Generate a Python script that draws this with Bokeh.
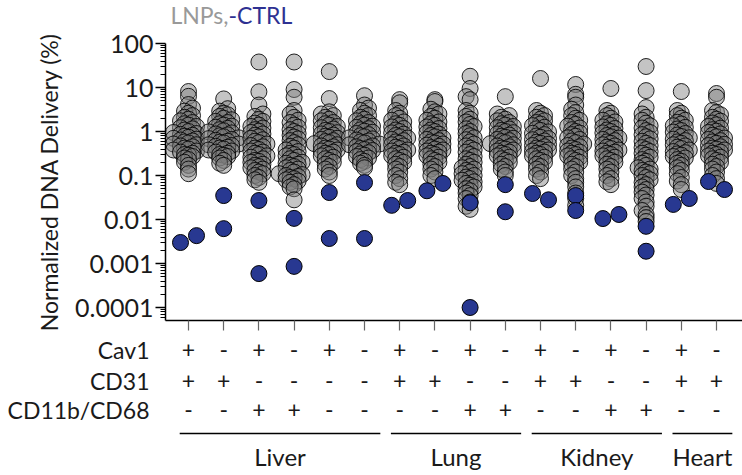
import numpy as np
from bokeh.plotting import figure
from bokeh.layouts import column
from bokeh.models import ColumnDataSource, Range1d, FixedTicker, CustomJSTickFormatter
from bokeh.core.properties import value
from bokeh.embed import file_html
from bokeh.resources import INLINE

# ---------------- data ----------------
groups = list(range(16))

lnp_values = [
    [8.1, 6.3, 4.1, 3.4, 2.9, 2.6, 2.3, 2.1, 1.9, 1.75, 1.6, 1.5, 1.4, 1.3, 1.22, 1.15, 1.08, 1.0, 0.95, 0.9,
     0.86, 0.82, 0.78, 0.74, 0.7, 0.67, 0.64, 0.61, 0.58, 0.55, 0.52, 0.5, 0.47, 0.45, 0.42, 0.4, 0.38, 0.36,
     0.34, 0.32, 0.3, 0.29, 0.27, 0.25, 0.23, 0.2, 0.17, 0.14, 0.11],
    [5.5, 3.3, 2.9, 2.6, 2.4, 2.2, 2.0, 1.85, 1.7, 1.6, 1.5, 1.4, 1.32, 1.25, 1.18, 1.1, 1.04, 0.98, 0.93, 0.88,
     0.84, 0.8, 0.76, 0.72, 0.69, 0.66, 0.63, 0.6, 0.57, 0.55, 0.52, 0.5, 0.48, 0.46, 0.44, 0.42, 0.4, 0.38,
     0.36, 0.34, 0.32, 0.3, 0.29, 0.27, 0.25, 0.22, 0.19, 0.17],
    [38, 8.0, 4.0, 2.5, 2.2, 1.9, 1.7, 1.55, 1.4, 1.3, 1.2, 1.1, 1.02, 0.95, 0.88, 0.82, 0.76, 0.7, 0.65, 0.6,
     0.56, 0.52, 0.48, 0.45, 0.42, 0.39, 0.36, 0.34, 0.32, 0.3, 0.28, 0.26, 0.24, 0.22, 0.21, 0.2, 0.18, 0.17,
     0.16, 0.15, 0.14, 0.13, 0.12, 0.11, 0.1, 0.09, 0.08, 0.07],
    [38, 9.0, 6.0, 3.0, 2.5, 2.1, 1.8, 1.6, 1.4, 1.25, 1.1, 1.0, 0.9, 0.82, 0.75, 0.68, 0.62, 0.56, 0.5, 0.46,
     0.42, 0.38, 0.35, 0.32, 0.3, 0.28, 0.26, 0.24, 0.22, 0.2, 0.19, 0.18, 0.17, 0.16, 0.15, 0.14, 0.13, 0.12,
     0.11, 0.105, 0.1, 0.095, 0.09, 0.085, 0.08, 0.075, 0.07, 0.062, 0.055, 0.05, 0.028],
    [23, 5.6, 2.8, 2.5, 2.3, 2.1, 1.9, 1.75, 1.6, 1.5, 1.4, 1.3, 1.22, 1.14, 1.06, 1.0, 0.94, 0.88, 0.83, 0.78,
     0.74, 0.7, 0.66, 0.62, 0.59, 0.56, 0.53, 0.5, 0.47, 0.45, 0.42, 0.4, 0.38, 0.36, 0.34, 0.32, 0.3, 0.28,
     0.26, 0.24, 0.22, 0.2, 0.18, 0.16, 0.14, 0.12, 0.1],
    [6.5, 4.0, 3.4, 3.0, 2.6, 2.3, 2.1, 1.9, 1.75, 1.6, 1.5, 1.4, 1.32, 1.24, 1.16, 1.09, 1.02, 0.96, 0.9, 0.85,
     0.8, 0.76, 0.72, 0.68, 0.64, 0.61, 0.58, 0.55, 0.52, 0.5, 0.47, 0.45, 0.43, 0.41, 0.39, 0.37, 0.35, 0.33,
     0.31, 0.29, 0.27, 0.25, 0.23, 0.21, 0.19, 0.17, 0.15],
    [5.3, 4.5, 3.0, 2.6, 2.3, 2.0, 1.8, 1.65, 1.5, 1.38, 1.27, 1.17, 1.08, 1.0, 0.93, 0.87, 0.81, 0.76, 0.71,
     0.66, 0.62, 0.58, 0.54, 0.5, 0.47, 0.44, 0.41, 0.38, 0.36, 0.34, 0.32, 0.3, 0.28, 0.26, 0.24, 0.22, 0.2,
     0.18, 0.16, 0.14, 0.12, 0.1, 0.085, 0.07, 0.062],
    [5.3, 4.8, 3.2, 2.8, 2.5, 2.2, 2.0, 1.8, 1.65, 1.5, 1.38, 1.27, 1.17, 1.08, 1.0, 0.93, 0.87, 0.81, 0.76,
     0.71, 0.66, 0.62, 0.58, 0.55, 0.52, 0.49, 0.46, 0.43, 0.4, 0.38, 0.36, 0.34, 0.32, 0.3, 0.28, 0.26, 0.24,
     0.22, 0.2, 0.18, 0.16, 0.14, 0.12, 0.1, 0.085],
    [18, 9.5, 6.2, 5.3, 3.0, 2.6, 2.2, 1.9, 1.65, 1.45, 1.3, 1.15, 1.0, 0.9, 0.8, 0.72, 0.65, 0.58, 0.52, 0.47,
     0.42, 0.38, 0.34, 0.3, 0.27, 0.24, 0.22, 0.2, 0.18, 0.16, 0.15, 0.14, 0.13, 0.12, 0.11, 0.1, 0.092, 0.085,
     0.078, 0.072, 0.066, 0.06, 0.055, 0.05, 0.045, 0.04, 0.035, 0.03, 0.025, 0.02, 0.017],
    [6.2, 2.5, 2.3, 2.1, 1.9, 1.75, 1.6, 1.5, 1.4, 1.3, 1.22, 1.14, 1.06, 1.0, 0.94, 0.88, 0.83, 0.78, 0.74,
     0.7, 0.66, 0.62, 0.59, 0.56, 0.53, 0.5, 0.47, 0.45, 0.42, 0.4, 0.38, 0.36, 0.34, 0.32, 0.3, 0.28, 0.26,
     0.24, 0.22, 0.2, 0.18, 0.16, 0.14, 0.12, 0.1],
    [16, 3.0, 2.6, 2.3, 2.1, 1.9, 1.75, 1.6, 1.48, 1.36, 1.25, 1.15, 1.06, 0.98, 0.91, 0.85, 0.79, 0.74, 0.69,
     0.65, 0.61, 0.57, 0.54, 0.51, 0.48, 0.45, 0.42, 0.4, 0.38, 0.36, 0.34, 0.32, 0.3, 0.28, 0.26, 0.24, 0.22,
     0.2, 0.18, 0.16, 0.14, 0.12, 0.1, 0.085],
    [11.7, 7.0, 6.0, 4.0, 3.2, 2.7, 2.3, 2.0, 1.8, 1.6, 1.45, 1.32, 1.2, 1.1, 1.0, 0.92, 0.85, 0.78, 0.72, 0.66,
     0.61, 0.56, 0.52, 0.48, 0.45, 0.42, 0.39, 0.36, 0.34, 0.32, 0.3, 0.28, 0.26, 0.24, 0.22, 0.2, 0.18, 0.16,
     0.14, 0.12, 0.1, 0.085, 0.07, 0.055, 0.04, 0.03, 0.021],
    [9.5, 3.0, 2.6, 2.3, 2.0, 1.8, 1.65, 1.5, 1.38, 1.27, 1.17, 1.08, 1.0, 0.93, 0.87, 0.81, 0.76, 0.71, 0.66,
     0.62, 0.58, 0.54, 0.5, 0.47, 0.44, 0.41, 0.38, 0.36, 0.34, 0.32, 0.3, 0.28, 0.26, 0.24, 0.22, 0.2, 0.18,
     0.16, 0.14, 0.12, 0.1, 0.085, 0.072, 0.062],
    [30, 8.5, 3.5, 2.5, 2.1, 1.8, 1.55, 1.35, 1.2, 1.05, 0.95, 0.85, 0.76, 0.68, 0.6, 0.54, 0.48, 0.43, 0.39,
     0.35, 0.32, 0.29, 0.26, 0.23, 0.21, 0.19, 0.17, 0.15, 0.14, 0.13, 0.12, 0.11, 0.1, 0.09, 0.08, 0.07, 0.062,
     0.055, 0.048, 0.042, 0.036, 0.03, 0.025, 0.02, 0.016, 0.013, 0.011, 0.009],
    [8.1, 3.0, 2.6, 2.3, 2.0, 1.8, 1.62, 1.48, 1.35, 1.24, 1.14, 1.05, 0.97, 0.9, 0.83, 0.77, 0.72, 0.67, 0.62,
     0.58, 0.54, 0.5, 0.47, 0.44, 0.41, 0.38, 0.35, 0.33, 0.31, 0.29, 0.27, 0.25, 0.23, 0.21, 0.19, 0.17, 0.15,
     0.13, 0.11, 0.09, 0.075, 0.062, 0.048],
    [7.3, 6.0, 3.0, 2.7, 2.4, 2.1, 1.9, 1.72, 1.56, 1.42, 1.3, 1.19, 1.1, 1.02, 0.95, 0.88, 0.82, 0.76, 0.71,
     0.66, 0.62, 0.58, 0.54, 0.51, 0.48, 0.45, 0.42, 0.4, 0.38, 0.36, 0.34, 0.32, 0.3, 0.28, 0.26, 0.24, 0.22,
     0.2, 0.18, 0.16, 0.14, 0.12, 0.1, 0.085, 0.066],
]

ctrl_values = [
    [0.003, 0.0043], [0.035, 0.0062], [0.027, 0.00059], [0.0106, 0.00086],
    [0.041, 0.0037], [0.069, 0.0037], [0.021, 0.027], [0.045, 0.066],
    [0.024, 0.0001], [0.062, 0.015], [0.039, 0.028], [0.035, 0.016],
    [0.0105, 0.013], [0.007, 0.0019], [0.022, 0.03], [0.073, 0.048],
]

cav1 = ["+", "-", "+", "-", "+", "-", "+", "-", "+", "-", "+", "-", "+", "-", "+", "-"]
cd31 = ["+", "+", "-", "-", "-", "-", "+", "+", "-", "-", "+", "+", "-", "-", "+", "+"]
cd11b = ["-", "-", "+", "+", "-", "-", "-", "-", "+", "+", "-", "-", "+", "+", "-", "-"]
marker_rows = ["Cav1", "CD31", "CD11b/CD68"]
organs = ["Liver", "Lung", "Kidney", "Heart"]
organ_spans = [(0, 5), (6, 9), (10, 13), (14, 15)]

y_ticks = [0.0001, 0.001, 0.01, 0.1, 1, 10, 100]

# ---------------- geometry ----------------
W = 742
TITLE_H, PLOT_H, TABLE_H = 28, 307, 140   # stacked panel heights (sum 475)
PLOT_TOP = 15               # border above the scatter frame
LEFT = 165                  # left border shared by all panels
PX_PER_UNIT = 35.2          # horizontal pixels per group
PX_PER_DECADE = 44.0        # vertical pixels per decade
FIRST_PX = 188.0            # pixel centre of the first group
FRAME_H = 277               # scatter frame height
FONT = "Lato"
INK = "#1a1a1a"

def px_to_x(px):
    return (px - FIRST_PX) / PX_PER_UNIT

x_start, x_end = px_to_x(LEFT), px_to_x(W)
y_min = 10 ** (2 - FRAME_H / PX_PER_DECADE)

# horizontal spreading of points that share a value band
CANDIDATES = [0, -4, 4, -8, 8, -15, 15, -22, 22, -2, 2, -6, 6]

def swarm_offsets(vals, row_px=6.0):
    y = np.log10(np.asarray(vals, dtype=float)) * PX_PER_DECADE
    rows = np.floor(y / row_px).astype(int)
    off = np.zeros(len(y))
    for r in np.unique(rows):
        idx = np.where(rows == r)[0]
        idx = idx[np.argsort(y[idx])]
        for k, i in enumerate(idx):
            off[i] = CANDIDATES[k % len(CANDIDATES)]
    return off / PX_PER_UNIT

def pair_offsets(vals, min_px=12.0):
    y = np.log10(np.asarray(vals, dtype=float)) * PX_PER_DECADE
    if len(y) == 2 and abs(y[0] - y[1]) < min_px:
        return np.array([-8.0, 8.0]) / PX_PER_UNIT
    return np.zeros(len(y))

gx, gy = [], []
for g, vals in zip(groups, lnp_values):
    gx.extend(g + swarm_offsets(vals))
    gy.extend(vals)

cx, cy = [], []
for g, vals in zip(groups, ctrl_values):
    cx.extend(g + pair_offsets(vals))
    cy.extend(vals)

def strip(height):
    f = figure(width=W, height=height, x_range=Range1d(x_start, x_end), y_range=Range1d(0, height),
               x_axis_location=None, output_backend="svg", toolbar_location=None,
               min_border_left=LEFT, min_border_right=0, min_border_top=0, min_border_bottom=0,
               outline_line_color=None)
    f.grid.visible = False
    return f

# ---------------- title strip ----------------
t = strip(TITLE_H)
t.yaxis.visible = False
t.text(x=[px_to_x(228)], y=[TITLE_H - 14], text=["LNPs,"], text_color="#999999",
       text_font=value(FONT), text_font_size=value("23px"), text_align="right",
       text_baseline="middle")
t.text(x=[px_to_x(228)], y=[TITLE_H - 14], text=["-CTRL"], text_color="#2e3192",
       text_font=value(FONT), text_font_size=value("23px"), text_align="left",
       text_baseline="middle")

# ---------------- scatter panel ----------------
p = figure(width=W, height=PLOT_H, y_axis_type="log",
           x_range=Range1d(x_start, x_end), y_range=Range1d(y_min, 100),
           output_backend="svg", toolbar_location=None,
           min_border_left=LEFT, min_border_right=0, min_border_top=PLOT_TOP,
           min_border_bottom=PLOT_H - FRAME_H - PLOT_TOP, outline_line_color=None)
p.grid.visible = False

p.scatter(x="x", y="y", source=ColumnDataSource(dict(x=gx, y=gy)), size=16,
          fill_color="#7c7c7c", fill_alpha=0.45, line_color="black",
          line_alpha=0.85, line_width=1)
p.scatter(x="x", y="y", source=ColumnDataSource(dict(x=cx, y=cy)), size=16,
          fill_color="#283891", line_color="black", line_width=1)

minor = [k * 10.0 ** e for e in range(-5, 2) for k in range(2, 10)]
yax = p.yaxis[0]
yax.ticker = FixedTicker(ticks=y_ticks, minor_ticks=minor)
yax.formatter = CustomJSTickFormatter(code="return Number(tick.toPrecision(6)).toString();")
yax.axis_line_width = 1.5
yax.axis_line_color = "black"
yax.major_tick_line_width = 1.5
yax.major_tick_line_color = "black"
yax.minor_tick_line_color = "black"
yax.minor_tick_line_width = 1.2
yax.major_tick_out = 10
yax.major_tick_in = 0
yax.minor_tick_out = 5
yax.minor_tick_in = 0
yax.major_label_standoff = 2
yax.major_label_text_font = FONT
yax.major_label_text_font_size = "25px"
yax.major_label_text_color = INK
yax.axis_label = "Normalized DNA Delivery (%)"
yax.axis_label_text_font = FONT
yax.axis_label_text_font_size = "23px"
yax.axis_label_text_font_style = "normal"
yax.axis_label_text_color = INK
yax.axis_label_standoff = 9

xax = p.xaxis[0]
xax.ticker = FixedTicker(ticks=groups, minor_ticks=[])
xax.formatter = CustomJSTickFormatter(code="return '';")
xax.major_label_standoff = 0
xax.axis_line_width = 1.5
xax.axis_line_color = "black"
xax.major_tick_line_color = "#666666"
xax.major_tick_line_width = 1.2
xax.major_tick_out = 10
xax.major_tick_in = 0
xax.minor_tick_line_color = None

# ---------------- marker table ----------------
def table_y(py):
    # canvas pixel row -> table panel coordinate
    return TITLE_H + PLOT_H + TABLE_H - py

row_py = [349, 380, 409]
b = strip(TABLE_H)
bax = b.yaxis[0]
bax.ticker = FixedTicker(ticks=[table_y(py) for py in row_py], minor_ticks=[])
bax.major_label_overrides = {table_y(py): name for py, name in zip(row_py, marker_rows)}
bax.axis_line_color = None
bax.major_tick_line_color = None
bax.minor_tick_line_color = None
bax.major_label_standoff = 10
bax.major_label_text_font = FONT
bax.major_label_text_font_size = "23px"
bax.major_label_text_color = INK

for signs, py in zip([cav1, cd31, cd11b], row_py):
    b.text(x=groups, y=[table_y(py)] * len(groups), text=signs, text_font=value(FONT),
           text_font_size=value("23px"), text_align="center", text_baseline="middle",
           text_color=INK)

x0s = [s - 0.25 for s, e in organ_spans]
x1s = [e + 0.45 for s, e in organ_spans]
b.segment(x0=x0s, y0=[table_y(433)] * 4, x1=x1s, y1=[table_y(433)] * 4,
          line_color="black", line_width=1.3)
b.text(x=[(a + c) / 2 for a, c in zip(x0s, x1s)], y=[table_y(456)] * 4, text=organs,
       text_font=value(FONT), text_font_size=value("24px"), text_align="center",
       text_baseline="middle", text_color=INK)

layout = column(t, p, b, spacing=0)
open("out.html", "w").write(file_html(layout, INLINE))
